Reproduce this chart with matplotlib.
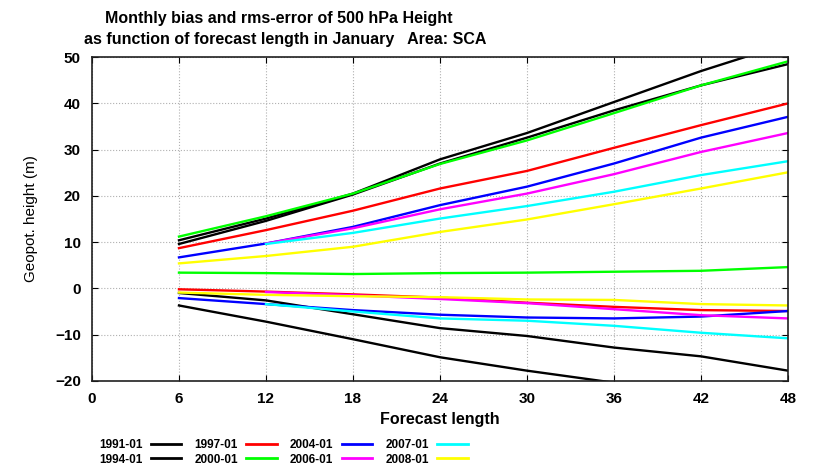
import numpy as np
import matplotlib
matplotlib.use('Agg')
import matplotlib.pyplot as plt

plt.rcParams['font.family'] = ['Liberation Sans', 'DejaVu Sans']
plt.rcParams['font.weight'] = 'bold'

hours = [6, 12, 18, 24, 30, 36, 42, 48]
nan = np.nan

labels = ['1991-01', '1994-01', '1997-01', '2000-01', '2004-01', '2006-01', '2007-01', '2008-01']
colors = ['#000000', '#000000', '#ff0000', '#00ff00', '#0000ff', '#ff00ff', '#00ffff', '#ffff00']

# rms-error per month
rms_1991 = [10.4, 15.1, 20.5, 27.9, 33.6, 40.3, 47.0, 53.0]
rms_1994 = [9.6, 14.6, 20.3, 27.0, 32.6, 38.5, 43.9, 48.5]
rms_1997 = [8.7, 12.6, 16.8, 21.6, 25.4, 30.4, 35.3, 40.0]
rms_2000 = [11.2, 15.6, 20.5, 26.9, 32.0, 37.9, 43.9, 49.1]
rms_2004 = [6.7, 9.7, 13.3, 18.0, 22.0, 27.0, 32.6, 37.1]
rms_2006 = [nan, 9.7, 13.0, 17.1, 20.5, 24.7, 29.5, 33.6]
rms_2007 = [nan, 9.6, 12.0, 15.1, 17.8, 20.9, 24.5, 27.5]
rms_2008 = [5.4, 7.0, 9.0, 12.2, 14.9, 18.2, 21.6, 25.1]

# bias per month
bias_1991 = [-3.7, -7.2, -11.0, -14.9, -17.8, -20.4, -23.0, -25.5]
bias_1994 = [-1.0, -2.6, -5.6, -8.6, -10.3, -12.8, -14.7, -17.8]
bias_1997 = [-0.2, -0.7, -1.3, -2.0, -3.1, -4.0, -4.7, -4.9]
bias_2000 = [3.4, 3.3, 3.1, 3.3, 3.4, 3.6, 3.8, 4.6]
bias_2004 = [-2.1, -3.4, -4.7, -5.7, -6.3, -6.5, -6.1, -4.9]
bias_2006 = [nan, -0.8, -1.5, -2.3, -3.2, -4.5, -5.8, -6.5]
bias_2007 = [nan, -3.4, -5.0, -6.5, -7.0, -8.1, -9.6, -10.8]
bias_2008 = [-0.9, -1.4, -1.7, -1.9, -2.4, -2.5, -3.4, -3.7]

rms = [rms_1991, rms_1994, rms_1997, rms_2000, rms_2004, rms_2006, rms_2007, rms_2008]
bias = [bias_1991, bias_1994, bias_1997, bias_2000, bias_2004, bias_2006, bias_2007, bias_2008]

fig = plt.figure(figsize=(8.14, 4.65), dpi=100)
ax = fig.add_axes([0.113, 0.181, 0.855, 0.696])

handles = []
for lab, col, r, b in zip(labels, colors, rms, bias):
    h, = ax.plot(hours, r, color=col, lw=1.7, label=lab)
    ax.plot(hours, b, color=col, lw=1.7)
    handles.append(h)

ax.set_xlim(0, 48)
ax.set_ylim(-20, 50)
ax.set_xticks(range(0, 49, 6))
ax.set_yticks(range(-20, 51, 10))
ax.grid(True, color='#b0b0b0', linestyle=':', linewidth=0.8)
ax.tick_params(direction='in', top=True, right=True, length=4, labelsize=11, pad=8)
for s in ax.spines.values():
    s.set_linewidth(1.2)
    s.set_color('#202020')

ax.set_xlabel('Forecast length', fontsize=11.5, fontweight='bold', labelpad=4)
ax.set_ylabel('Geopot. height (m)', fontsize=11, fontweight='normal', labelpad=12)

fig.text(0.342, 0.961, 'Monthly bias and rms-error of 500 hPa Height',
         ha='center', va='center', fontsize=11.5)
fig.text(0.350, 0.914, 'as function of forecast length in January   Area: SCA',
         ha='center', va='center', fontsize=11.5)

# legend: two rows, label first then line sample
leg = fig.legend(handles, labels,
                 ncol=4, loc='center', bbox_to_anchor=(0.348, 0.027),
                 frameon=False, markerfirst=False, fontsize=8.5,
                 handlelength=2.6, columnspacing=1.1, handletextpad=0.7,
                 labelspacing=0.2)
for line in leg.get_lines():
    line.set_linewidth(2.0)

plt.savefig('out.png', dpi=100)
